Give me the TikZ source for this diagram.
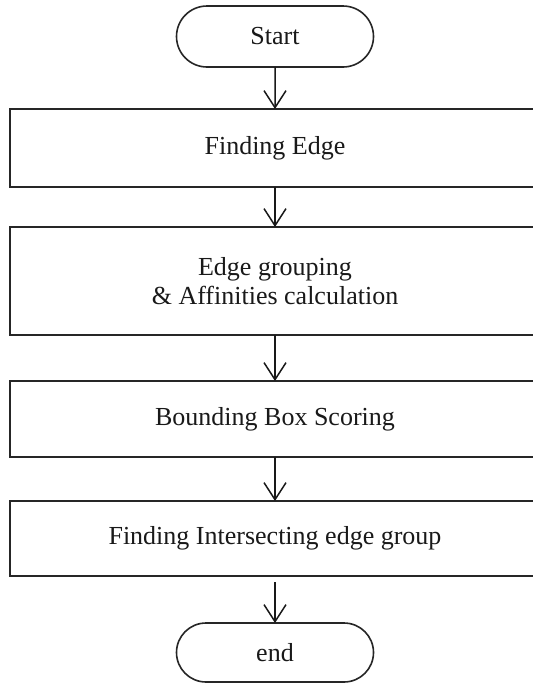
\documentclass[tikz,border=0pt]{standalone}
\usepackage{fontspec}
\setmainfont{Liberation Serif}
\usetikzlibrary{shapes.misc,arrows.meta}
\begin{document}
\begin{tikzpicture}[x=1pt,y=-1pt,
  every node/.style={font=\fontsize{26pt}{29pt}\selectfont, text=black!90, align=center, inner sep=0pt, outer sep=0pt},
  terminal/.style={draw=black!85, line width=1.6pt, rounded rectangle, minimum width=197pt},
  stepbox/.style={draw=black!85, line width=1.6pt, rectangle, minimum width=530pt},
  flow/.style={draw=black!90, line width=1.5pt, -{Straight Barb[length=17pt,width=22pt,line width=1.5pt]}}
]
\useasboundingbox (0,0) rectangle (533,683);
\clip (0,0) rectangle (533,683);
\fill[white] (0,0) rectangle (533,683);

\node[terminal, minimum height=61pt] (start) at (275,36.5) {Start};
\node[stepbox, minimum height=78pt]  (edge)  at (275,148) {Finding Edge};
\node[stepbox, minimum height=108pt] (group) at (275,281) {Edge grouping\\\& Affinities calculation};
\node[stepbox, minimum height=76pt]  (score) at (275,419) {Bounding Box Scoring};
\node[stepbox, minimum height=75pt]  (inter) at (275,538.5) {Finding Intersecting edge group};
\node[terminal, minimum height=59pt] (end)   at (275,652.5) {end};

\draw[flow] (start) -- (edge);
\draw[flow] (edge) -- (group);
\draw[flow] (group) -- (score);
\draw[flow] (score) -- (inter);
\draw[flow, shorten <=6pt] (inter) -- (end);
\end{tikzpicture}
\end{document}
